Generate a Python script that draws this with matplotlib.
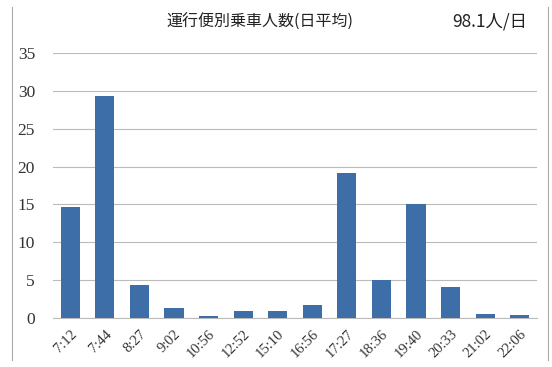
import matplotlib
matplotlib.use("Agg")
import matplotlib.pyplot as plt
import numpy as np

# Daily average riders per departure
times = ["7:12", "7:44", "8:27", "9:02", "10:56", "12:52", "15:10",
         "16:56", "17:27", "18:36", "19:40", "20:33", "21:02", "22:06"]
riders = [14.7, 29.3, 4.4, 1.3, 0.3, 0.9, 0.9,
          1.7, 19.2, 5.0, 15.0, 4.1, 0.5, 0.4]
yticks = [0, 5, 10, 15, 20, 25, 30, 35]

title = "運行便別乗車人数(日平均)"
total_label = "98.1人/日"

jp = ["Noto Sans CJK JP", "DejaVu Sans"]
serif = "Liberation Serif"

fig = plt.figure(figsize=(5.52, 3.67), dpi=100)
ax = fig.add_axes([53 / 552, 1 - 318 / 367, 484 / 552, 265 / 367])

x = np.arange(len(times))
ax.bar(x, riders, width=0.55, color="#3d6ea8", zorder=3)

ax.set_xlim(-0.5, len(times) - 0.5)
ax.set_ylim(0, 35)
ax.set_yticks(yticks)
ax.set_yticklabels([str(v) for v in yticks], family=serif, fontsize=12.5,
                   color="#333333")
ax.set_xticks(x)
ax.set_xticklabels(times, rotation=45, ha="right", rotation_mode="anchor",
                   family=serif, fontsize=10.5, color="#333333")
ax.tick_params(length=0, pad=13, axis="y")
ax.tick_params(length=0, pad=7, axis="x")
ax.yaxis.grid(True, color="#bbbbbb", linewidth=0.8, zorder=0)
for s in ["top", "right", "left"]:
    ax.spines[s].set_visible(False)
ax.spines["bottom"].set_color("#bbbbbb")

fig.text(260 / 552, 1 - 22 / 367, title, family=jp, fontsize=11.5,
         ha="center", va="center", color="#222222")
fig.text(527 / 552, 1 - 22 / 367, total_label, family=jp, fontsize=12.5,
         ha="right", va="center", color="#222222")

# outer frame
fig.add_artist(plt.Line2D([12 / 552, 12 / 552], [0.02, 0.98],
                          transform=fig.transFigure, color="#aaaaaa", lw=0.8))
fig.add_artist(plt.Line2D([548 / 552, 548 / 552], [0.02, 0.98],
                          transform=fig.transFigure, color="#aaaaaa", lw=0.8))

fig.savefig("out.png", dpi=100)
